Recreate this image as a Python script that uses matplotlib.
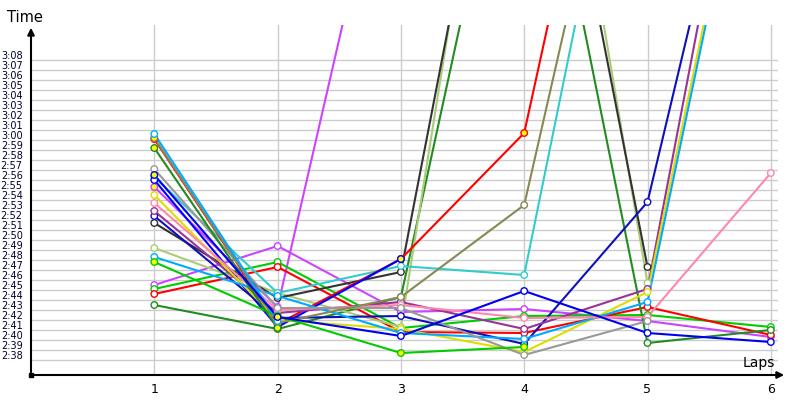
#!/usr/bin/env python3
# -*- coding: utf-8 -*-
# lap times chart, one line per driver
import matplotlib
matplotlib.use('Agg')
import matplotlib.pyplot as plt
import numpy as np

plt.rcParams.update({'font.family': 'DejaVu Sans'})

#%% data (lap times in seconds, None = no lap)
laps = [1, 2, 3, 4, 5, 6]
N = None
violet_a = [174.8, 162.8, 216.4, N, N, N]
violet_b = [165.0, 168.9, 162.3, 162.6, 161.4, 159.8]
green_a = [164.6, 167.3, 160.7, 161.9, 162.0, 160.8]
red_a = [164.1, 166.8, 160.3, 160.2, 162.8, 160.0]
dkgreen_a = [163.0, 160.6, 163.8, 220.5, 159.2, 160.5]
palegreen = [168.7, 164.2, 160.8, 238.0, 165.2, N]
black = [171.2, 163.7, 166.3, 230.0, 166.8, N]
cyan = [175.8, 164.2, 166.9, 166.0, 226.5, N]
red_b = [179.6, 161.1, 167.6, 180.2, 236.4, N]
blue_a = [175.5, 160.8, 167.6, N, N, N]
dkblue = [171.9, 161.7, 161.9, 159.1, 173.3, 225.0]
purple = [172.4, 162.2, 163.3, 160.6, 164.6, 229.0]
yellow = [174.0, 161.5, 160.6, 158.3, 164.3, 223.0]
skyblue_a = [167.8, 163.9, 160.2, 159.6, 163.3, 222.0]
pink = [173.2, 162.5, 163.0, 161.7, 161.8, 176.2]
gray = [176.6, 162.7, 162.7, 158.0, 161.4, N]
olive = [179.7, 161.2, 163.8, 173.0, 227.0, N]
green_b = [167.3, 161.9, 158.2, 158.8, N, N]
dkgreen_b = [178.7, 160.7, N, N, N, N]
skyblue_b = [180.1, 161.4, N, N, N, N]
blue_b = [176.0, 161.8, 159.9, 164.4, 160.2, 159.3]

# laps drawn with a yellow marker
flagged = {'violet_a': [1, 2], 'olive': [1, 2], 'red_b': [1, 4], 'dkgreen_b': [1, 2],
           'blue_b': [1, 2], 'cyan': [1], 'green_b': [1, 3, 4], 'purple': [2],
           'blue_a': [3]}

drivers = [('violet_a', violet_a), ('violet_b', violet_b), ('green_a', green_a),
           ('red_a', red_a), ('dkgreen_a', dkgreen_a), ('palegreen', palegreen),
           ('black', black), ('cyan', cyan), ('red_b', red_b), ('blue_a', blue_a),
           ('dkblue', dkblue), ('purple', purple), ('yellow', yellow),
           ('skyblue_a', skyblue_a), ('pink', pink), ('gray', gray), ('olive', olive),
           ('green_b', green_b), ('dkgreen_b', dkgreen_b), ('skyblue_b', skyblue_b),
           ('blue_b', blue_b)]

colors = {'violet_a': '#CC44FF', 'violet_b': '#CC44FF', 'green_a': '#00CC00',
          'red_a': '#FF0000', 'dkgreen_a': '#228B22', 'palegreen': '#AACC77',
          'black': '#333333', 'cyan': '#33CCCC', 'red_b': '#FF0000', 'blue_a': '#0000FF',
          'dkblue': '#1010BB', 'purple': '#993399', 'yellow': '#DDDD00',
          'skyblue_a': '#00AAFF', 'pink': '#FF88AA', 'gray': '#999999',
          'olive': '#888855', 'green_b': '#00CC00', 'dkgreen_b': '#228B22',
          'skyblue_b': '#00AAFF', 'blue_b': '#0000EE'}

#%% plot
fig = plt.figure(figsize=(8, 4), dpi=100)
ax = fig.add_axes([31/800, 25/400, 747/800, 350/400])
ax.set_xlim(0, 747/123.3)
ax.set_ylim(156, 191)

for name, t in drivers:
    x = [l for l, v in zip(laps, t) if v is not None]
    y = [v for v in t if v is not None]
    c = colors[name]
    ax.plot(x, y, color=c, lw=1.5, zorder=3)
    fc = ['#FFFF00' if l in flagged.get(name, []) else 'white' for l in x]
    ax.scatter(x, y, s=22, facecolors=fc, edgecolors=c, linewidths=1, zorder=4)

secs = np.arange(158, 189)
ax.set_yticks(secs)
ax.set_yticklabels(['%d:%02d' % (s // 60, s % 60) for s in secs])
ax.set_yticks(secs - 0.5, minor=True)
ax.set_xticks(laps)
ax.grid(which='minor', axis='y', color='#CCCCCC', lw=1, zorder=0)
ax.grid(which='major', axis='x', color='#CCCCCC', lw=1, zorder=0)
ax.tick_params(axis='y', which='both', length=0, labelsize=7, pad=6, labelcolor='#000030')
ax.tick_params(axis='x', length=0, labelsize=9, pad=6)
for s in ax.spines.values():
    s.set_visible(False)

# axes drawn as arrows
ax.annotate('', xy=(0, 1.0), xytext=(0, 0), xycoords='axes fraction',
            arrowprops=dict(arrowstyle='-|>', color='black', lw=1.5, mutation_scale=10))
ax.annotate('', xy=(1.012, 0), xytext=(0, 0), xycoords='axes fraction',
            arrowprops=dict(arrowstyle='-|>', color='black', lw=1.5, mutation_scale=10))
ax.plot([0], [0], 's', color='black', ms=3, transform=ax.transAxes, clip_on=False)
fig.text(7/800, 1 - 22/400, 'Time', fontsize=10.5, ha='left', va='baseline')
fig.text(775/800, 1 - 367/400, 'Laps', fontsize=10, ha='right', va='baseline')

plt.savefig('out.png', dpi=100)
